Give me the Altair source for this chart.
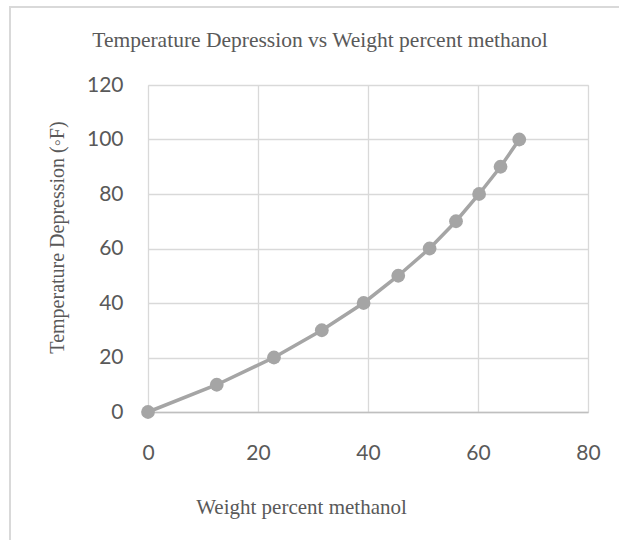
import altair as alt
import pandas as pd

weight_pct = [0, 12.5, 22.9, 31.6, 39.2, 45.5, 51.2, 56.0, 60.2, 64.1, 67.5]
temp_dep = [0, 10, 20, 30, 40, 50, 60, 70, 80, 90, 100]
x_ticks = [0, 20, 40, 60, 80]
y_ticks = [0, 20, 40, 60, 80, 100, 120]

df = pd.DataFrame({"w": weight_pct, "t": temp_dep})

GRAY = "#595959"
SERIES = "#a5a5a5"

x_enc = alt.X(
    "w:Q",
    scale=alt.Scale(domain=[0, 80], nice=False, zero=False),
    axis=alt.Axis(
        values=x_ticks,
        title="Weight percent methanol",
        titleFont="Liberation Serif",
        titleFontSize=21,
        titleFontWeight="normal",
        titleColor=GRAY,
        titleX=153,
        titleY=95,
        titleAlign="center",
        titleBaseline="middle",
        labelFont="Lato",
        labelFontSize=21,
        labelColor=GRAY,
        labelPadding=30,
        labelFlush=False,
        ticks=False,
        domain=True,
        domainColor="#bfbfbf",
        domainWidth=1.5,
        grid=True,
        gridColor="#d9d9d9",
        gridWidth=1.3,
    ),
)
y_enc = alt.Y(
    "t:Q",
    scale=alt.Scale(domain=[0, 120], nice=False, zero=False),
    axis=alt.Axis(
        values=y_ticks,
        title="Temperature Depression (◦F)",
        titleFont="Liberation Serif",
        titleFontSize=20,
        titleFontWeight="normal",
        titleColor=GRAY,
        titleX=-91,
        titleY=152,
        titleAngle=270,
        titleAlign="center",
        titleBaseline="middle",
        labelFont="Lato",
        labelFontSize=21,
        labelColor=GRAY,
        labelPadding=25,
        labelFlush=False,
        ticks=False,
        domain=False,
        grid=True,
        gridColor="#d9d9d9",
        gridWidth=1.3,
    ),
)

base = alt.Chart(df)
line = base.mark_line(color=SERIES, strokeWidth=3.5).encode(x=x_enc, y=y_enc)
pts = base.mark_point(filled=True, color=SERIES, opacity=1, size=190).encode(x=x_enc, y=y_enc)

frame = alt.Chart(pd.DataFrame({"a": [0]})).mark_rect(
    fill=None, stroke="#d9d9d9", strokeWidth=2, clip=False
).encode(
    x=alt.value(-138), x2=alt.value(520), y=alt.value(-78), y2=alt.value(480)
)

chart = (
    alt.layer(frame, line, pts)
    .properties(
        width=440,
        height=327,
        padding={"left": 148, "top": 85, "right": 31, "bottom": 128},
        autosize=alt.AutoSizeParams(type="none"),
        title=alt.TitleParams(
            text="Temperature Depression vs Weight percent methanol",
            font="Liberation Serif",
            fontSize=21.5,
            fontWeight="normal",
            color=GRAY,
            anchor="middle",
            baseline="alphabetic",
            dx=-48,
            dy=62,
            offset=0,
        ),
    )
    .configure_view(stroke=None)
    .configure(background="white")
)

chart.save("out.html", embed_options={"renderer": "svg", "actions": False})
